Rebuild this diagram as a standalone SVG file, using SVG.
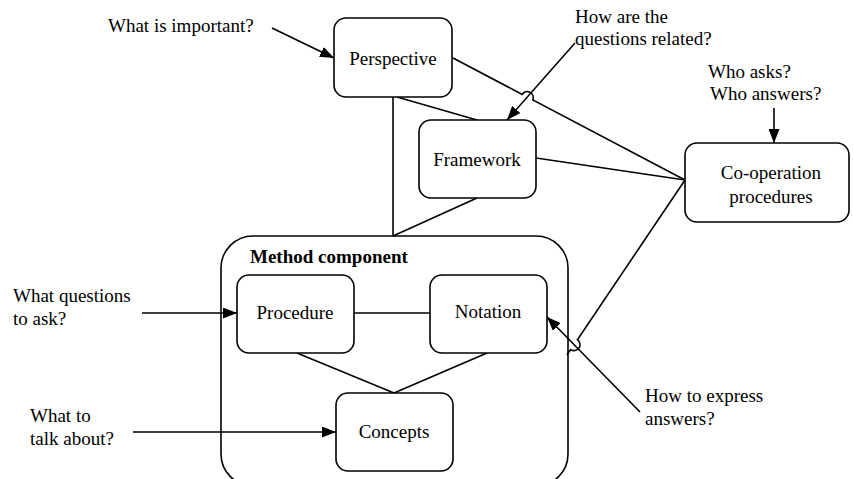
<svg xmlns="http://www.w3.org/2000/svg" width="853" height="479" viewBox="0 0 853 479">
<style>
.box{fill:#fff;stroke:#000;stroke-width:1.6}
.ln{fill:none;stroke:#000;stroke-width:1.6}
text{font-family:"Liberation Serif","Times New Roman",serif;font-size:19px;fill:#000}
.c{text-anchor:middle}
.b{font-weight:bold}
</style>
<defs>
<marker id="ah" viewBox="0 0 14 11" refX="14" refY="5.5" markerWidth="14" markerHeight="11" markerUnits="userSpaceOnUse" orient="auto">
<path d="M0,0 L14,5.5 L0,11 Z" fill="#000"/>
</marker>
</defs>
<g id="method-component">
<rect class="box" x="221" y="236" width="347" height="250" rx="32"/>
<text class="b" x="250" y="263">Method component</text>
</g>
<g id="connectors">
<line class="ln" x1="393" y1="97" x2="393" y2="236"/>
<line class="ln" x1="397" y1="97" x2="477" y2="120"/>
<line class="ln" x1="477" y1="198" x2="393" y2="236"/>
<path class="ln" d="M453,58 L522.2,94.4 A6,6 0 0 1 532.8,99.9 L685,180"/>
<line class="ln" x1="536" y1="158" x2="685" y2="180"/>
<path class="ln" d="M567,355 L570.6,349.6 A6,6 0 0 0 577.4,339.7 L685,180"/>
<line class="ln" x1="354" y1="313" x2="430" y2="313"/>
<line class="ln" x1="297" y1="353" x2="394" y2="393"/>
<line class="ln" x1="487" y1="353" x2="394" y2="393"/>
<line class="ln" x1="272" y1="28" x2="334" y2="58" marker-end="url(#ah)"/>
<line class="ln" x1="575" y1="43" x2="507" y2="120" marker-end="url(#ah)"/>
<line class="ln" x1="774" y1="108" x2="774" y2="143" marker-end="url(#ah)"/>
<line class="ln" x1="142" y1="313" x2="237" y2="313" marker-end="url(#ah)"/>
<line class="ln" x1="133" y1="432" x2="336" y2="432" marker-end="url(#ah)"/>
<line class="ln" x1="640" y1="412" x2="547" y2="317" marker-end="url(#ah)"/>
</g>
<g id="perspective">
<rect class="box" x="334" y="18" width="118" height="79" rx="12"/>
<text class="c" x="393" y="65">Perspective</text>
</g>
<g id="framework">
<rect class="box" x="419" y="120" width="117" height="78" rx="12"/>
<text class="c" x="477" y="166">Framework</text>
</g>
<g id="co-operation">
<rect class="box" x="685" y="143" width="164" height="79" rx="12"/>
<text class="c" x="771" y="179">Co-operation</text>
<text class="c" x="771" y="203">procedures</text>
</g>
<g id="procedure">
<rect class="box" x="237" y="275" width="117" height="78" rx="12"/>
<text class="c" x="295" y="319">Procedure</text>
</g>
<g id="notation">
<rect class="box" x="430" y="275" width="117" height="78" rx="12"/>
<text class="c" x="488" y="318">Notation</text>
</g>
<g id="concepts">
<rect class="box" x="336" y="393" width="117" height="78" rx="12"/>
<text class="c" x="394" y="438">Concepts</text>
</g>
<g id="labels">
<text x="108" y="32">What is important?</text>
<text x="575" y="23">How are the</text>
<text x="575" y="45">questions related?</text>
<text x="708" y="78">Who asks?</text>
<text x="710" y="100">Who answers?</text>
<text x="13" y="302">What questions</text>
<text x="13" y="325">to ask?</text>
<text x="30" y="422">What to</text>
<text x="30" y="445">talk about?</text>
<text x="645" y="402">How to express</text>
<text x="645" y="425">answers?</text>
</g>
</svg>
